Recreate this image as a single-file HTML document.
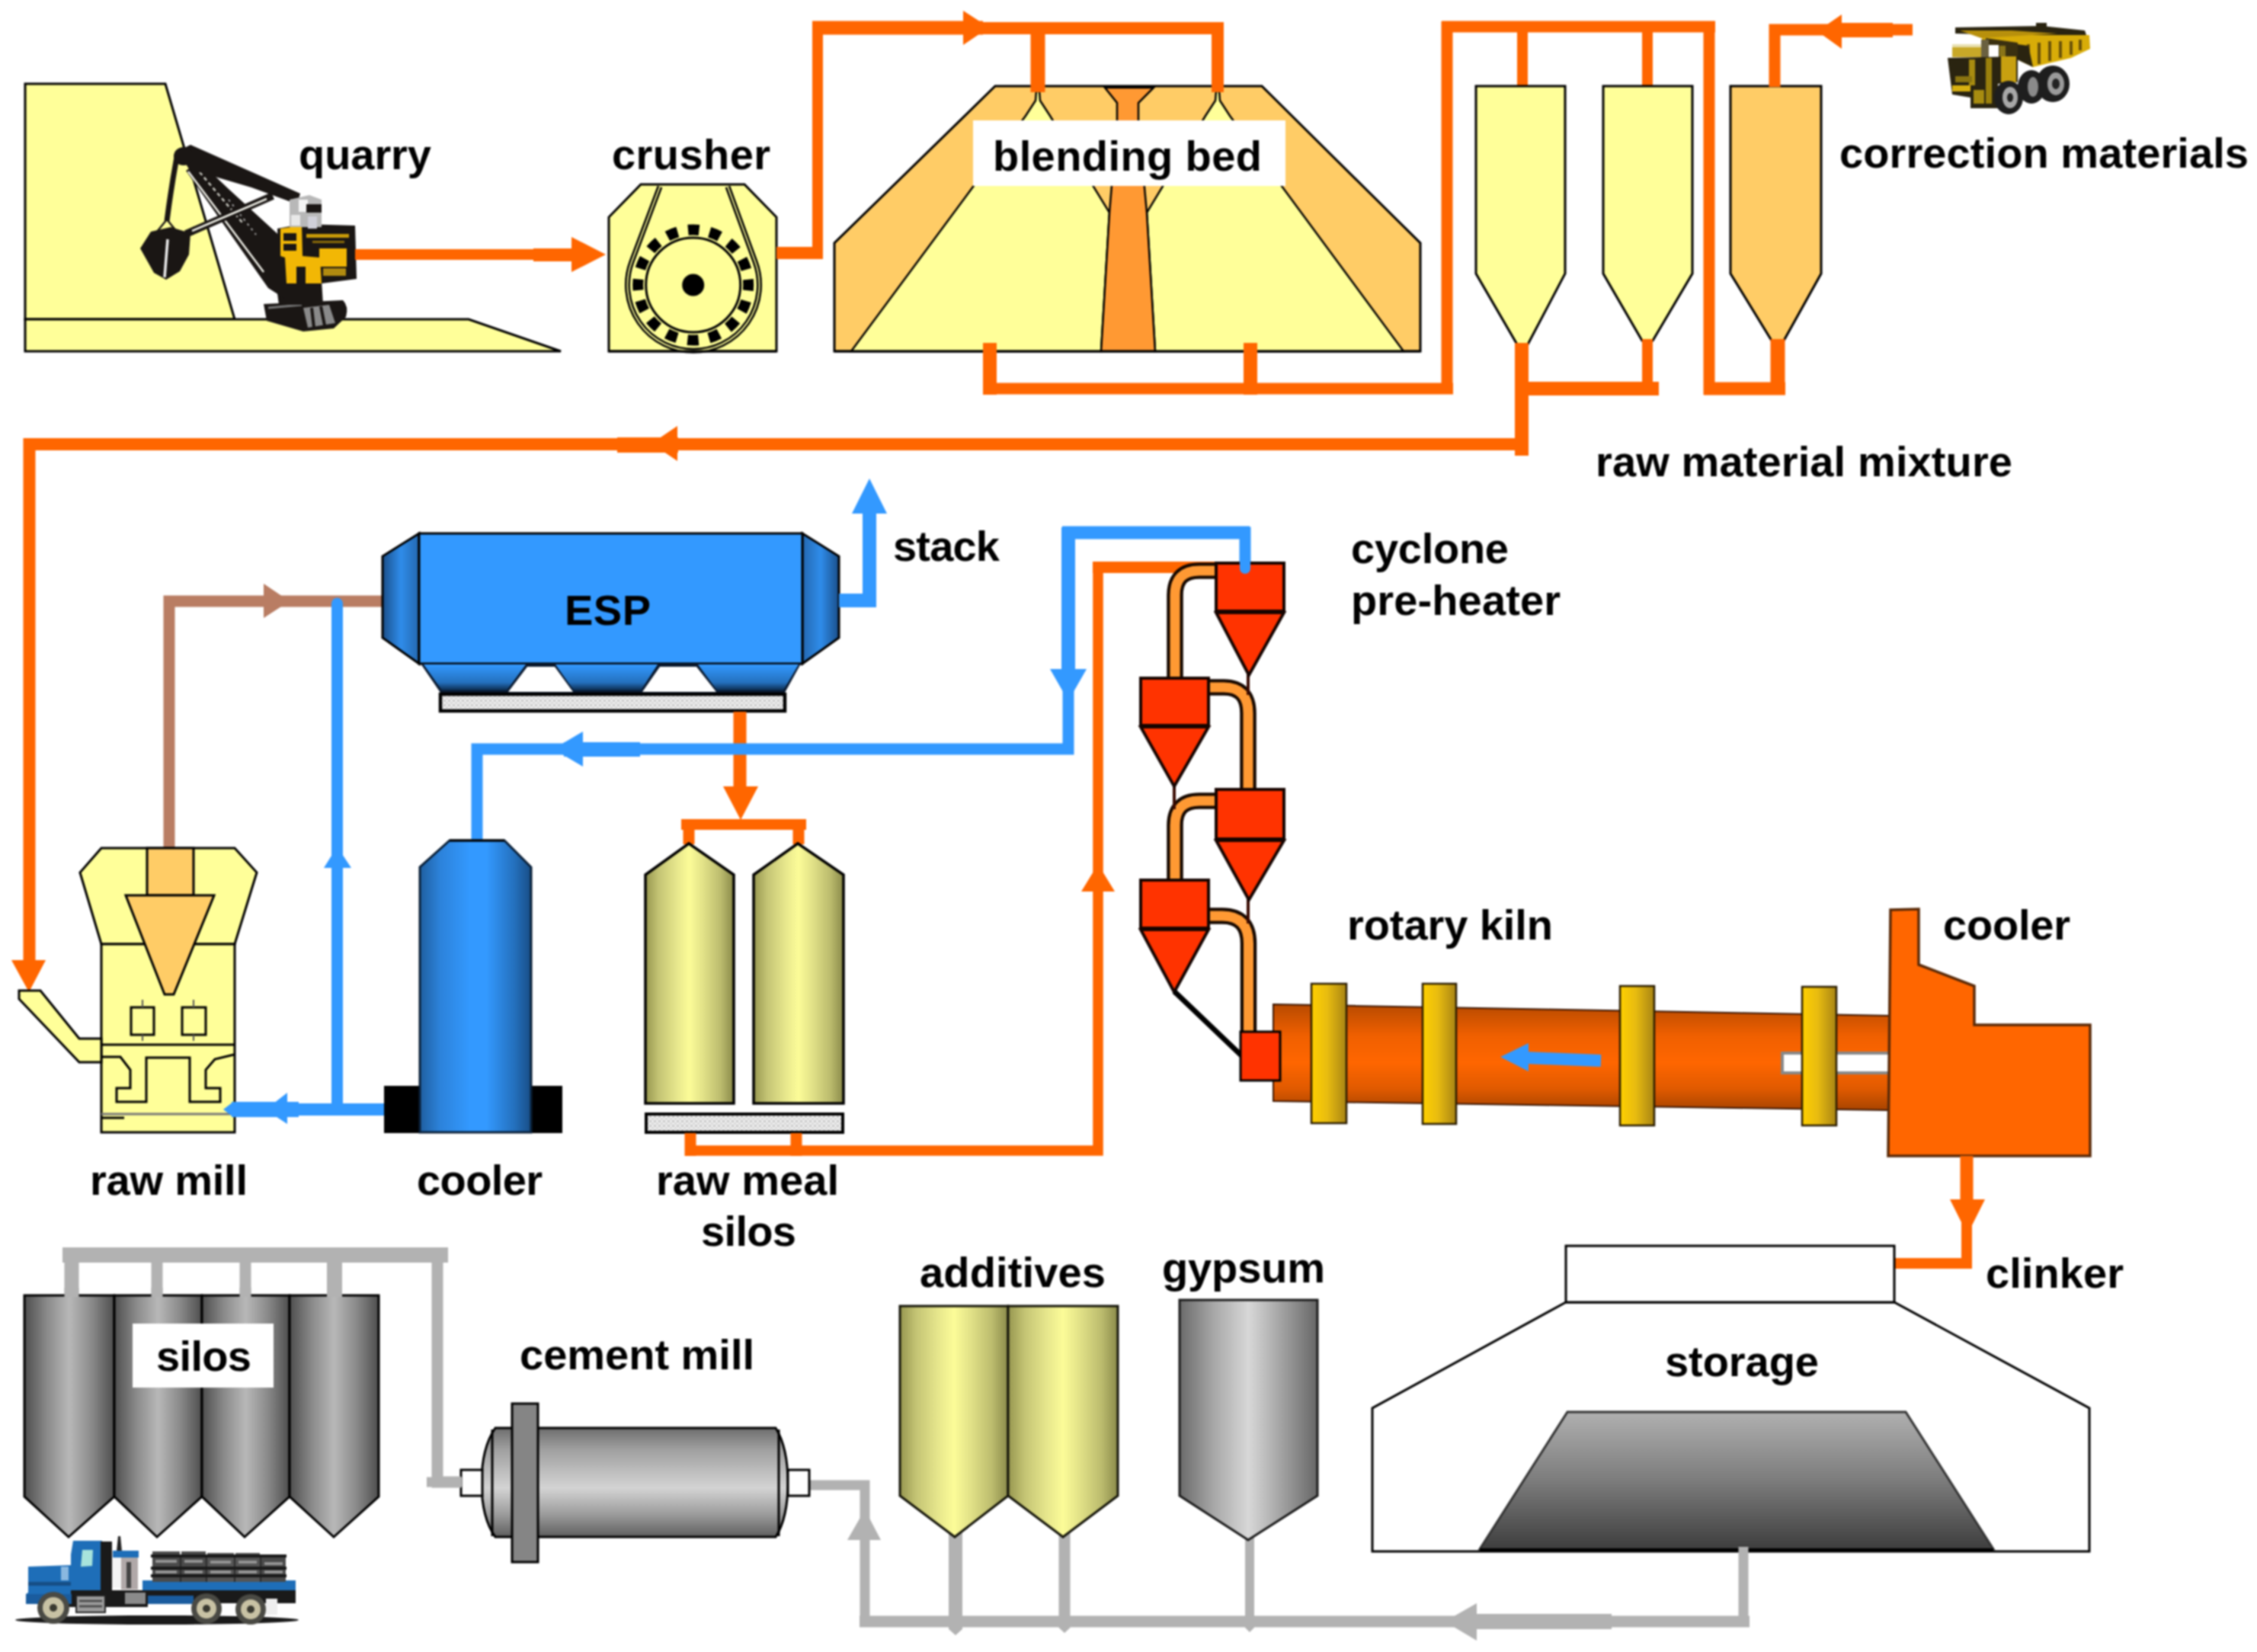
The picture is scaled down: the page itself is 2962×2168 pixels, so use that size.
<!DOCTYPE html>
<html>
<head>
<meta charset="utf-8">
<title>Cement manufacturing process</title>
<style>
html,body{margin:0;padding:0;background:#fff;}
body{width:2962px;height:2168px;overflow:hidden;font-family:"Liberation Sans",sans-serif;}
svg{display:block;}
text{font-family:"Liberation Sans",sans-serif;font-weight:bold;fill:#000;}
.o{stroke:#FF6600;fill:none;stroke-linecap:butt;stroke-linejoin:miter;}
.of{fill:#FF6600;stroke:none;}
.b{stroke:#3399FF;fill:none;}
.bf{fill:#3399FF;stroke:none;}
.g{stroke:#B2B2B2;fill:none;}
.gf{fill:#B2B2B2;stroke:none;}
.k{stroke:#000;stroke-width:3;}
</style>
</head>
<body>
<svg width="2962" height="2168" viewBox="0 0 2962 2168">
<defs>
  <linearGradient id="gBlueV" x1="0" y1="0" x2="1" y2="0">
    <stop offset="0" stop-color="#1F5FA0"/><stop offset="0.18" stop-color="#2C82DA"/><stop offset="0.45" stop-color="#3399FF"/><stop offset="0.6" stop-color="#3399FF"/><stop offset="0.85" stop-color="#2470BD"/><stop offset="1" stop-color="#184E86"/>
  </linearGradient>
  <linearGradient id="gCapL" x1="0" y1="0" x2="1" y2="0">
    <stop offset="0" stop-color="#1A4F8A"/><stop offset="0.5" stop-color="#2F8CEA"/><stop offset="1" stop-color="#2468B0"/>
  </linearGradient>
  <linearGradient id="gCapR" x1="0" y1="0" x2="1" y2="0">
    <stop offset="0" stop-color="#2468B0"/><stop offset="0.5" stop-color="#2F8CEA"/><stop offset="1" stop-color="#1A4F8A"/>
  </linearGradient>
  <linearGradient id="gHop" x1="0" y1="0" x2="0" y2="1">
    <stop offset="0" stop-color="#3399FF"/><stop offset="0.7" stop-color="#2470BD"/><stop offset="1" stop-color="#0B2A4C"/>
  </linearGradient>
  <linearGradient id="gOlive" x1="0" y1="0" x2="1" y2="0">
    <stop offset="0" stop-color="#96964F"/><stop offset="0.15" stop-color="#C4C474"/><stop offset="0.35" stop-color="#E6E68C"/><stop offset="0.5" stop-color="#FCFC98"/><stop offset="0.65" stop-color="#E2E288"/><stop offset="0.85" stop-color="#BCBC6E"/><stop offset="1" stop-color="#8A8A4A"/>
  </linearGradient>
  <linearGradient id="gSilo" x1="0" y1="0" x2="1" y2="0">
    <stop offset="0" stop-color="#4E4E4E"/><stop offset="0.25" stop-color="#8A8A8A"/><stop offset="0.5" stop-color="#B8B8B8"/><stop offset="0.75" stop-color="#8A8A8A"/><stop offset="1" stop-color="#4E4E4E"/>
  </linearGradient>
  <linearGradient id="gGyp" x1="0" y1="0" x2="1" y2="0">
    <stop offset="0" stop-color="#6A6A6A"/><stop offset="0.25" stop-color="#A8A8A8"/><stop offset="0.5" stop-color="#D8D8D8"/><stop offset="0.75" stop-color="#A0A0A0"/><stop offset="1" stop-color="#666666"/>
  </linearGradient>
  <linearGradient id="gMill" x1="0" y1="0" x2="0" y2="1">
    <stop offset="0" stop-color="#6E6E6E"/><stop offset="0.2" stop-color="#A0A0A0"/><stop offset="0.55" stop-color="#D4D4D4"/><stop offset="0.8" stop-color="#9A9A9A"/><stop offset="1" stop-color="#5E5E5E"/>
  </linearGradient>
  <linearGradient id="gPile" x1="0" y1="0" x2="0" y2="1">
    <stop offset="0" stop-color="#B0B0B0"/><stop offset="0.5" stop-color="#7C7C7C"/><stop offset="1" stop-color="#3E3E3E"/>
  </linearGradient>
  <linearGradient id="gKiln" x1="0" y1="0" x2="0" y2="1">
    <stop offset="0" stop-color="#B84A00"/><stop offset="0.3" stop-color="#F06000"/><stop offset="0.55" stop-color="#FF6600"/><stop offset="0.8" stop-color="#E05A00"/><stop offset="1" stop-color="#A84400"/>
  </linearGradient>
  <linearGradient id="gRing" x1="0" y1="0" x2="1" y2="0">
    <stop offset="0" stop-color="#FFD000"/><stop offset="0.45" stop-color="#E8BC10"/><stop offset="1" stop-color="#A88414"/>
  </linearGradient>
  <pattern id="dots" width="6" height="6" patternUnits="userSpaceOnUse">
    <rect width="6" height="6" fill="#F0F0F0"/><rect x="0" y="0" width="3" height="3" fill="#C8C8C8"/><rect x="3" y="3" width="3" height="3" fill="#D8D8D8"/>
  </pattern>
  <filter id="soft" x="0" y="0" width="2962" height="2168" filterUnits="userSpaceOnUse" color-interpolation-filters="sRGB"><feGaussianBlur stdDeviation="1.2"/></filter>
</defs>
<rect width="2962" height="2168" fill="#FFFFFF"/>
<g id="all" filter="url(#soft)">
<rect x="-20" y="-20" width="3002" height="2208" fill="#FFFFFF"/>

<!-- SECTION:TOPROW -->
<!-- ===== QUARRY ===== -->
<polygon points="33,110 217,110 308,419 33,419" fill="#FFFF99" class="k"/>
<polygon points="33,419 615,419 736,461 33,461" fill="#FFFF99" class="k"/>
<!-- excavator (simplified clip art) -->
<g id="excavator">
  <!-- tracks -->
  <path d="M346,399 L450,394 Q458,402 454,416 L438,431 L398,435 L350,421 Z" fill="#1A1614"/>
  <path d="M398,404 L432,400 L440,424 L404,430 Z" fill="#8A8A8A"/>
  <path d="M409,404 L412,430 M421,402 L426,427" stroke="#1A1614" stroke-width="4" fill="none"/>
  <path d="M352,404 L396,400" stroke="#777" stroke-width="3"/>
  <!-- base / turret -->
  <polygon points="362,370 422,368 424,400 366,400" fill="#1A1614"/>
  <!-- lower lattice boom -->
  <polygon points="244,224 262,212 300,248 372,314 374,392 352,378" fill="#1A1614"/>
  <line x1="247" y1="225" x2="346" y2="357" stroke="#F0F0E8" stroke-width="2.5"/>
  <line x1="262" y1="226" x2="318" y2="292" stroke="#C8C8C0" stroke-width="2.5" stroke-dasharray="5 4"/>
  <line x1="300" y1="262" x2="336" y2="308" stroke="#AAA" stroke-width="2" stroke-dasharray="3 5"/>
  <!-- upper boom -->
  <polygon points="234,198 250,190 394,254 390,268 330,246 248,222" fill="#1A1614"/>
  <!-- dipper stick -->
  <line x1="244" y1="307" x2="358" y2="257" stroke="#1A1614" stroke-width="10"/>
  <line x1="252" y1="303" x2="350" y2="261" stroke="#F0F0E8" stroke-width="2.5"/>
  <!-- hoist rope -->
  <path d="M232,206 Q224,250 219,290" stroke="#1A1614" stroke-width="7" fill="none"/>
  <path d="M219,288 L206,304 M219,288 L232,304" stroke="#1A1614" stroke-width="2.5" fill="none"/>
  <ellipse cx="241" cy="205" rx="13" ry="12" fill="#1A1614"/>
  <!-- bucket -->
  <path d="M184,326 L198,304 L224,298 L250,306 L248,334 L236,356 L218,367 L202,358 Z" fill="#1A1614"/>
  <path d="M220,314 L216,364" stroke="#EEE" stroke-width="3.5"/>
  <!-- machinery house -->
  <polygon points="364,300 396,294 466,296 468,366 422,372 366,372" fill="#1A1614"/>
  <polygon points="368,300 396,296 397,336 420,338 422,372 376,372 374,338 368,336" fill="#F2B705"/>
  <rect x="372" y="306" width="17" height="10" fill="#1A1614"/><rect x="372" y="320" width="17" height="9" fill="#1A1614"/>
  <rect x="389" y="350" width="12" height="22" fill="#1A1614"/>
  <rect x="419" y="326" width="36" height="24" fill="#F2B705"/>
  <rect x="424" y="352" width="30" height="10" fill="#B08A10"/>
  <rect x="402" y="307" width="56" height="5" fill="#C89A08"/><rect x="410" y="316" width="42" height="3" fill="#8A6A08"/>
  <!-- operator cab -->
  <polygon points="380,262 406,256 422,262 422,298 380,298" fill="#B8B8B8"/>
  <rect x="392" y="262" width="12" height="16" fill="#F4F4F4"/>
  <rect x="402" y="268" width="20" height="11" fill="#1A1614"/>
  <rect x="382" y="282" width="12" height="14" fill="#E8E8E8"/>
  <rect x="404" y="284" width="12" height="16" fill="#CFCFD8"/>
</g>
<!-- quarry -> crusher arrow -->
<line x1="466" y1="334" x2="760" y2="334" class="o" stroke-width="14"/>
<rect x="700" y="326" width="60" height="17" class="of"/>
<polygon points="750,311 795,334 750,357" class="of"/>

<!-- ===== CRUSHER ===== -->
<polygon points="799,461 799,285 841,242 977,242 1019,285 1019,461" fill="#FFFF99" class="k"/>
<path d="M866,245 L829,343.5 A86.5,86.5 0 1 0 991,343.5 L955,245" fill="none" stroke="#000" stroke-width="7" stroke-linejoin="round"/>
<path d="M866,245 L829,343.5 A86.5,86.5 0 1 0 991,343.5 L955,245" fill="none" stroke="#FFFF99" stroke-width="1.8" stroke-linejoin="round"/>
<line x1="799" y1="461" x2="1019" y2="461" class="k"/>
<circle cx="909.7" cy="374" r="62" fill="none" stroke="#000" stroke-width="3"/>
<circle cx="909.7" cy="374" r="72.5" fill="none" stroke="#000" stroke-width="14" stroke-dasharray="14.5 13.97" transform="rotate(-5.7 909.7 374)"/>
<circle cx="909.7" cy="374" r="14.5" fill="#000"/>
<!-- crusher -> blending bed line -->
<polyline points="1019,331 1073,331 1073,36" class="o" stroke-width="14"/>
<line x1="1066" y1="36.5" x2="1290" y2="36.5" class="o" stroke-width="18"/>
<line x1="1019" y1="332" x2="1080" y2="332" class="o" stroke-width="16"/>
<line x1="1280" y1="37" x2="1606" y2="37" class="o" stroke-width="16"/>
<polygon points="1264,14 1298,36 1264,59" class="of"/>

<!-- ===== BLENDING BED ===== -->
<polygon points="1095,461 1095,319 1306,113 1656,113 1864,319 1864,461" fill="#FFCC66" class="k"/>
<!-- left yellow pile -->
<polygon points="1117,461 1346,152 1359,132 1360,120 1364,120 1365,132 1378,152 1456,279 1445,461" fill="#FFFF99" stroke="#000" stroke-width="2.5"/>
<!-- right yellow pile -->
<polygon points="1516,461 1505,279 1582,152 1595,132 1596,120 1600,120 1601,132 1614,152 1842,461" fill="#FFFF99" stroke="#000" stroke-width="2.5"/>
<!-- centre column -->
<polygon points="1450,115 1514,115 1494,135 1494,160 1505,279 1516,461 1445,461 1456,279 1466,160 1466,135" fill="#FF9933" stroke="#000" stroke-width="2.5"/>
<line x1="1095" y1="461" x2="1864" y2="461" stroke="#000" stroke-width="3"/>
<rect x="1277" y="158" width="410" height="86" fill="#FFFFFF"/>
<line x1="1362" y1="30" x2="1362" y2="121" class="o" stroke-width="19"/>
<line x1="1598" y1="30" x2="1598" y2="121" class="o" stroke-width="16"/>

<!-- bottom pipes of blending bed -->
<line x1="1299" y1="450" x2="1299" y2="518" class="o" stroke-width="18"/>
<line x1="1641" y1="450" x2="1641" y2="518" class="o" stroke-width="18"/>
<line x1="1290" y1="510" x2="1907" y2="510" class="o" stroke-width="15"/>
<line x1="1899" y1="28" x2="1899" y2="517" class="o" stroke-width="15"/>
<line x1="1892" y1="35" x2="2251" y2="35" class="o" stroke-width="15"/>
<line x1="1998" y1="35" x2="1998" y2="114" class="o" stroke-width="14"/>
<line x1="2162" y1="35" x2="2162" y2="114" class="o" stroke-width="14"/>
<line x1="2243" y1="28" x2="2243" y2="518" class="o" stroke-width="15"/>
<line x1="2236" y1="510" x2="2343" y2="510" class="o" stroke-width="17"/>

<!-- ===== FEED SILOS ===== -->
<polygon points="1937,113 2054,113 2054,359 2005,452 1991,452 1937,359" fill="#FFFF99" class="k"/>
<polygon points="2104,113 2221,113 2221,359 2169,447 2155,447 2104,359" fill="#FFFF99" class="k"/>
<polygon points="2271,113 2390,113 2390,359 2341,447 2325,447 2271,359" fill="#FFCC66" class="k"/>
<line x1="1997" y1="450" x2="1997" y2="598" class="o" stroke-width="18"/>
<line x1="2162" y1="445" x2="2162" y2="518" class="o" stroke-width="14"/>
<line x1="2333" y1="445" x2="2333" y2="518" class="o" stroke-width="19"/>
<line x1="1988" y1="510" x2="2177" y2="510" class="o" stroke-width="18"/>
<!-- correction materials arrow -->
<polyline points="2329,114 2329,39 2510,39" class="o" stroke-width="15"/>
<rect x="2410" y="30" width="74" height="19" class="of"/>
<polygon points="2417,19 2385,41 2417,64" class="of"/>
<!-- dump truck (simplified) -->
<g id="dumptruck">
  <!-- bed -->
  <polygon points="2601,46 2742,46 2743,64 2718,76 2668,88 2647,78 2647,58 2601,54" fill="#D8AC08"/>
  <polygon points="2566,36 2680,34 2736,40 2738,46 2640,46 2566,44" fill="#2A2410"/>
  <polygon points="2572,40 2640,40 2700,44 2600,50" fill="#B8900C"/>
  <rect x="2672" y="30" width="14" height="6" fill="#2A2410"/>
  <path d="M2662,58 V84 M2676,56 V84 M2690,54 V80 M2704,54 V76 M2718,54 V72 M2730,52 V66" stroke="#6A5208" stroke-width="4" fill="none"/>
  <polygon points="2647,58 2662,60 2668,88 2647,78" fill="#2A2410"/>
  <!-- cab top -->
  <rect x="2562" y="60" width="46" height="15" fill="#C8A828"/>
  <rect x="2562" y="58" width="46" height="4" fill="#E8E0B0"/>
  <polygon points="2606,50 2648,56 2648,76 2606,76" fill="#3A3010"/>
  <rect x="2624" y="60" width="8" height="14" fill="#8A7418"/>
  <rect x="2610" y="59" width="13" height="16" fill="#FFFFFF"/>
  <rect x="2600" y="52" width="10" height="24" fill="#6A6040"/>
  <!-- body -->
  <polygon points="2556,76 2648,74 2648,108 2622,110 2622,142 2586,142 2586,128 2562,124" fill="#2A2410"/>
  <rect x="2584" y="78" width="8" height="34" fill="#A88C10"/>
  <rect x="2606" y="76" width="8" height="60" fill="#9A800C"/>
  <rect x="2626" y="74" width="20" height="34" fill="#C8A010"/>
  <rect x="2566" y="100" width="22" height="8" fill="#8A7410"/>
  <rect x="2562" y="112" width="24" height="8" fill="#D8B010"/>
  <rect x="2590" y="118" width="14" height="18" fill="#A88C10"/>
  <!-- wheels -->
  <ellipse cx="2694" cy="110" rx="22" ry="24" fill="#1E1E1E"/>
  <ellipse cx="2666" cy="114" rx="18" ry="22" fill="#1E1E1E"/>
  <ellipse cx="2636" cy="128" rx="19" ry="22" fill="#1E1E1E"/>
  <ellipse cx="2698" cy="110" rx="11" ry="15" fill="#9A9A9A"/><ellipse cx="2698" cy="110" rx="5" ry="7" fill="#222"/>
  <ellipse cx="2668" cy="114" rx="7" ry="13" fill="#8A8A8A"/>
  <ellipse cx="2638" cy="128" rx="10" ry="14" fill="#A8A8A8"/><ellipse cx="2638" cy="128" rx="4" ry="6" fill="#222"/>
</g>

<!-- ===== RAW MATERIAL MIXTURE LINE ===== -->
<polyline points="2004,583 38.5,583 38.5,1266" class="o" stroke-width="16"/>
<rect x="810" y="574" width="80" height="20" class="of"/>
<polygon points="889,559 855,582 889,605" class="of"/>
<polygon points="15,1260 60,1260 38,1302" class="of"/>
<!-- END:TOPROW -->

<!-- SECTION:MIDROW -->
<!-- ===== BROWN LINE raw mill -> ESP ===== -->
<polyline points="222,1112 222,789 504,789" fill="none" stroke="#B97D63" stroke-width="15"/>
<polygon points="346,766 380,789 346,811" fill="#B97D63"/>
<!-- ===== BLUE vertical (cooler/raw mill to ESP) ===== -->
<line x1="442.5" y1="792" x2="442.5" y2="1456" class="b" stroke-width="15"/><circle cx="442.5" cy="792" r="7.5" class="bf"/>
<polygon points="425,1139 442.5,1111 461,1139" class="bf"/>
<!-- blue horizontal to raw mill -->

<!-- ===== ESP ===== -->
<polygon points="550,700 502,730 502,837 550,871" fill="url(#gCapL)" class="k"/>
<polygon points="1053,700 1101,730 1101,837 1053,871" fill="url(#gCapR)" class="k"/>
<rect x="550" y="700" width="503" height="171" fill="#3399FF" class="k"/>
<polygon points="552,871 1051,871 1030,909 578,909" fill="#0A1A30"/>
<polygon points="556,872 690,872 665,906 580,906" fill="url(#gHop)"/>
<polygon points="729,872 863,872 841,906 753,906" fill="url(#gHop)"/>
<polygon points="916,872 1048,872 1028,906 941,906" fill="url(#gHop)"/>
<polygon points="692,875 728,875 752,908 667,908" fill="#FFFFFF"/>
<polygon points="866,875 914,875 940,908 843,908" fill="#FFFFFF"/>
<rect x="578" y="911" width="452" height="22" fill="url(#dots)" stroke="#000" stroke-width="4.5"/>
<!-- ESP -> stack -->
<polyline points="1101,788 1141,788 1141,660" class="b" stroke-width="18"/>
<polygon points="1118,674 1141,628 1164,674" class="bf"/>
<!-- ESP -> raw meal silos -->
<line x1="971" y1="934" x2="971" y2="1040" class="o" stroke-width="17"/>
<polygon points="949,1032 995,1032 972,1076" class="of"/>
<line x1="894" y1="1082" x2="1058" y2="1082" class="o" stroke-width="14"/>
<line x1="904" y1="1076" x2="904" y2="1108" class="o" stroke-width="15"/>
<line x1="1048" y1="1076" x2="1048" y2="1108" class="o" stroke-width="15"/>

<!-- ===== BLUE line from preheater to cooler ===== -->
<polyline points="1634,748 1634,699 1402,699 1402,983 626,983 626,1106" class="b" stroke-width="15"/>
<line x1="1394" y1="699" x2="1640" y2="699" class="b" stroke-width="17"/>
<line x1="1402" y1="692" x2="1402" y2="900" class="b" stroke-width="18"/>
<polygon points="1378,878 1426,878 1402,920" class="bf"/>
<rect x="740" y="974" width="100" height="19" class="bf"/>
<polygon points="765,960 726,983 765,1006" class="bf"/>

<!-- ===== RAW MILL ===== -->
<polygon points="133,1113 308,1113 337,1145 308,1239 133,1239 105,1145" fill="#FFFF99" class="k"/>
<rect x="133" y="1239" width="175" height="247" fill="#FFFF99" class="k"/>
<polygon points="25,1300 53,1300 104,1363 133,1363 133,1394 104,1394 25,1311" fill="#FFFF99" class="k"/>
<rect x="193" y="1113" width="61" height="62" fill="#FFCC66" class="k"/>
<polygon points="165,1175 281,1175 228,1305 216,1305" fill="#FFCC66" class="k"/>
<rect x="172" y="1322" width="30" height="36" fill="#FFFF99" class="k"/>
<rect x="239" y="1322" width="31" height="36" fill="#FFFF99" class="k"/>
<path d="M187,1312 V1322 M187,1358 V1366 M254,1312 V1322 M254,1358 V1366" stroke="#555" stroke-width="2" fill="none"/>
<line x1="133" y1="1371" x2="308" y2="1371" class="k"/>
<path d="M134,1387 L158,1387 L171,1404 L171,1428 L153,1428 L153,1446 L192,1446 L192,1388 L249,1388 L249,1446 L289,1446 L289,1428 L270,1428 L270,1404 L282,1390 L307,1384" fill="none" class="k"/>
<line x1="133" y1="1462" x2="308" y2="1462" stroke="#777" stroke-width="3"/>
<line x1="133" y1="1467" x2="163" y2="1467" class="k"/>

<line x1="370" y1="1456" x2="512" y2="1456" class="b" stroke-width="16"/>
<line x1="304" y1="1456" x2="392" y2="1456" class="b" stroke-width="20"/>
<polygon points="377,1434 354,1452 354,1460 377,1475" class="bf"/>
<polygon points="306,1446 293,1456 306,1466" class="bf"/>
<!-- ===== COOLER (conditioning tower) ===== -->
<rect x="504" y="1425" width="234" height="62" fill="#000"/>
<polygon points="551,1486 551,1138 590,1103 662,1103 697,1138 697,1486" fill="url(#gBlueV)" stroke="#0A2038" stroke-width="3"/>
<line x1="590" y1="1103" x2="662" y2="1103" class="k"/>

<!-- ===== RAW MEAL SILOS ===== -->
<polygon points="847,1448 847,1148 904,1107 963,1148 963,1448" fill="url(#gOlive)" stroke="#000" stroke-width="3.5"/>
<polygon points="989,1448 989,1148 1047,1107 1107,1148 1107,1448" fill="url(#gOlive)" stroke="#000" stroke-width="3.5"/>
<rect x="848" y="1462" width="258" height="24" fill="url(#dots)" stroke="#000" stroke-width="4"/>
<line x1="906" y1="1487" x2="906" y2="1517" class="o" stroke-width="15"/>
<line x1="1045" y1="1487" x2="1045" y2="1517" class="o" stroke-width="15"/>
<polyline points="899,1510 1441,1510 1441,744" class="o" stroke-width="13.5"/>
<line x1="1434" y1="744.5" x2="1596" y2="744.5" class="o" stroke-width="15"/>
<polygon points="1419,1170 1441,1134 1463,1170" class="of"/>

<!-- ===== CYCLONE PRE-HEATER ===== -->
<g fill="none" stroke-linecap="butt">
  <!-- pipes: black outline then coloured core -->
  <path id="pA" d="M1598,749 H1574 Q1542,749 1542,781 V892"/>
  <path id="pB" d="M1584,902 H1606 Q1638,902 1638,936 V1038"/>
  <path id="pC" d="M1598,1051 H1574 Q1542,1051 1542,1083 V1156"/>
  <path id="pD" d="M1584,1202 H1604 Q1638.5,1202 1638.5,1238 V1356"/>
</g>
<g fill="none" stroke="#160800" stroke-width="21.5">
  <use href="#pA"/><use href="#pB"/><use href="#pC"/><use href="#pD"/>
</g>
<g fill="none" stroke="#FF9933" stroke-width="13">
  <use href="#pA"/><use href="#pB"/><use href="#pC"/><use href="#pD"/>
</g>
<path d="M1638,885 V912 M1541,1031 V1062 M1638,1180 V1212" stroke="#3A0A00" stroke-width="4" fill="none"/>
<g fill="#FF3300" stroke="#160400" stroke-width="4">
  <rect x="1596" y="739" width="89" height="63"/><polygon points="1596,804 1685,804 1639,886"/>
  <rect x="1497" y="890" width="89" height="62"/><polygon points="1497,954 1586,954 1541,1032"/>
  <rect x="1596" y="1036" width="89" height="65"/><polygon points="1596,1103 1685,1103 1639,1181"/>
  <rect x="1497" y="1155" width="89" height="63"/><polygon points="1497,1220 1586,1220 1541,1302"/>
</g>
<line x1="1634" y1="736" x2="1634" y2="746" class="b" stroke-width="14" stroke-linecap="round"/>
<line x1="1541" y1="1301" x2="1630" y2="1386" stroke="#000" stroke-width="7"/>

<!-- ===== ROTARY KILN ===== -->
<polygon points="1671,1318 2480,1333 2480,1457 1671,1445" fill="url(#gKiln)" stroke="#3A1400" stroke-width="2"/>
<rect x="2339" y="1382" width="142" height="26" fill="#FFFFFF" stroke="#888" stroke-width="4"/>
<rect x="1721" y="1291" width="46" height="183" fill="url(#gRing)" stroke="#2A1C00" stroke-width="2.5"/>
<rect x="1867" y="1291" width="44" height="184" fill="url(#gRing)" stroke="#2A1C00" stroke-width="2.5"/>
<rect x="2126" y="1294" width="45" height="183" fill="url(#gRing)" stroke="#2A1C00" stroke-width="2.5"/>
<rect x="2365" y="1295" width="45" height="182" fill="url(#gRing)" stroke="#2A1C00" stroke-width="2.5"/>
<rect x="1628" y="1354" width="52" height="64" fill="#FF3300" class="k"/>
<line x1="2000" y1="1388" x2="2101" y2="1392" class="b" stroke-width="16"/>
<polygon points="1969,1387 2006,1369 2006,1406" class="bf"/>
<!-- clinker cooler -->
<polygon points="2481,1194 2518,1193 2518,1266 2591,1294 2591,1345 2743,1345 2743,1517 2478,1517" fill="#FF6600" stroke="#5A2A08" stroke-width="3.5"/>
<polyline points="2581,1517 2581,1658 2486,1658" class="o" stroke-width="14"/>
<line x1="2581" y1="1517" x2="2581" y2="1600" class="o" stroke-width="17"/>
<polygon points="2559,1574 2605,1574 2582,1620" class="of"/>
<!-- END:MIDROW -->

<!-- SECTION:BOTROW -->
<!-- ===== CLINKER STORAGE ===== -->
<polygon points="2055,1709 1801,1848 1801,2036 2742,2036 2742,1848 2486,1709" fill="#FFFFFF" stroke="#000" stroke-width="3"/>
<rect x="2055" y="1635" width="431" height="74" fill="#FFFFFF" class="k"/>
<polygon points="2057,1853 2501,1853 2616,2033 1942,2033" fill="url(#gPile)" stroke="#333" stroke-width="3"/>
<line x1="1942" y1="2034" x2="2616" y2="2034" stroke="#000" stroke-width="4"/>
<!-- grey lines: storage -> cement mill -->
<line x1="2288" y1="2030" x2="2288" y2="2135" class="g" stroke-width="13"/>
<line x1="1128" y1="2128" x2="2296" y2="2128" class="g" stroke-width="15"/>
<rect x="1930" y="2118" width="185" height="20" class="gf"/>
<polygon points="1938,2104 1896,2128 1938,2153" class="gf"/>
<path d="M1245,2012 V2138 L1254,2146 L1263,2138 V2012 Z" class="gf"/>
<path d="M1389.5,2012 V2136 L1397,2143 L1404.5,2136 V2012 Z" class="gf"/>
<path d="M1634,2016 V2136 L1640,2142 L1646,2136 V2016 Z" class="gf"/>
<polyline points="1062,1949 1135,1949 1135,2135" class="g" stroke-width="13"/>
<polygon points="1112,2021 1135,1981 1156,2021" class="gf"/>
<!-- ===== ADDITIVES + GYPSUM ===== -->
<polygon points="1181,1714 1323,1714 1323,1963 1253,2017 1181,1963" fill="url(#gOlive)" stroke="#15150A" stroke-width="3"/>
<polygon points="1323,1714 1467,1714 1467,1963 1395,2017 1323,1963" fill="url(#gOlive)" stroke="#15150A" stroke-width="3"/>
<polygon points="1548,1706 1729,1706 1729,1963 1638,2021 1548,1963" fill="url(#gGyp)" stroke="#1A1A1A" stroke-width="3"/>
<!-- ===== CEMENT MILL ===== -->
<path d="M650,1874 H1018 Q1034,1900 1034,1946 Q1034,1992 1018,2017 H650 Q632,1992 632,1946 Q632,1900 650,1874 Z" fill="url(#gMill)" class="k"/>
<line x1="646" y1="1876" x2="646" y2="2016" class="k"/>
<line x1="1022" y1="1876" x2="1022" y2="2016" class="k"/>
<rect x="672" y="1842" width="34" height="208" fill="#858585" class="k"/>
<rect x="605" y="1929" width="28" height="34" fill="#FFFFFF" class="k"/>
<rect x="1034" y="1929" width="28" height="34" fill="#FFFFFF" class="k"/>
<!-- grey: mill -> silos -->
<polyline points="605,1945 574,1945 574,1640" class="g" stroke-width="15"/>
<line x1="560" y1="1945" x2="606" y2="1945" class="g" stroke-width="13"/>
<line x1="82" y1="1647" x2="588" y2="1647" class="g" stroke-width="20"/>
<line x1="94" y1="1640" x2="94" y2="1702" class="g" stroke-width="19"/>
<line x1="206" y1="1640" x2="206" y2="1702" class="g" stroke-width="15"/>
<line x1="322" y1="1640" x2="322" y2="1702" class="g" stroke-width="15"/>
<line x1="439" y1="1640" x2="439" y2="1702" class="g" stroke-width="20"/>
<!-- ===== CEMENT SILOS ===== -->
<polygon points="32,1700 150,1700 150,1964 90,2017 32,1964" fill="url(#gSilo)" class="k"/>
<polygon points="150,1700 265,1700 265,1964 206,2017 150,1964" fill="url(#gSilo)" class="k"/>
<polygon points="265,1700 380,1700 380,1964 321,2017 265,1964" fill="url(#gSilo)" class="k"/>
<polygon points="380,1700 497,1700 497,1964 438,2017 380,1964" fill="url(#gSilo)" class="k"/>
<line x1="94" y1="1690" x2="94" y2="1702" class="g" stroke-width="19"/>
<line x1="206" y1="1690" x2="206" y2="1702" class="g" stroke-width="15"/>
<line x1="322" y1="1690" x2="322" y2="1702" class="g" stroke-width="15"/>
<line x1="439" y1="1690" x2="439" y2="1702" class="g" stroke-width="20"/>
<rect x="174" y="1737" width="185" height="84" fill="#FFFFFF"/>
<!-- ===== CEMENT TRUCK (simplified) ===== -->
<g id="bluetruck">
  <ellipse cx="206" cy="2126" rx="186" ry="6" fill="#1A1A1A"/>
  <!-- chassis -->
  <rect x="88" y="2087" width="106" height="22" fill="#1A1A1A"/>
  <rect x="187" y="2087" width="201" height="17" fill="#1A1A1A"/>
  <rect x="194" y="2094" width="60" height="11" fill="#1A5C9E"/>
  <rect x="100" y="2094" width="38" height="22" fill="#9A9A9A" stroke="#222" stroke-width="2"/>
  <path d="M104,2101 H134 M104,2108 H134" stroke="#444" stroke-width="2.5"/>
  <rect x="164" y="2090" width="27" height="15" fill="#8A8A8A"/>
  <rect x="349" y="2098" width="15" height="21" fill="#EEE"/>
  <!-- hood -->
  <polygon points="37,2056 93,2054 93,2105 34,2105 34,2092 37,2090" fill="#1E6EB8"/>
  <rect x="37" y="2076" width="56" height="5" fill="#164E86"/>
  <rect x="34" y="2092" width="60" height="13" fill="#1A5C9E"/>
  <rect x="80" y="2056" width="10" height="18" fill="#8AB8E0"/>
  <!-- cab -->
  <polygon points="96,2022 134,2022 134,2087 93,2087 93,2040" fill="#1E6EB8"/>
  <polygon points="108,2034 122,2034 121,2055 106,2056" fill="#A8E4DC"/>
  <rect x="132" y="2023" width="15" height="64" fill="#1A1A1A"/>
  <!-- stack + tank -->
  <polygon points="153,2036 155,2016 158,2016 160,2036" fill="#222"/>
  <rect x="148" y="2035" width="34" height="9" fill="#1E6EB8"/>
  <rect x="147" y="2044" width="12" height="40" fill="#F4F4F4"/>
  <rect x="159" y="2044" width="22" height="42" fill="#B0A8A8"/>
  <rect x="166" y="2050" width="6" height="34" fill="#444"/>
  <!-- flatbed -->
  <rect x="187" y="2074" width="201" height="13" fill="#1E6EB8"/>
  <!-- barrels -->
  <g>
    <rect x="200" y="2040" width="175" height="36" fill="#2A2A2A"/>
    <rect x="200" y="2036" width="36" height="40" fill="#4A4A4A"/><rect x="238" y="2036" width="32" height="40" fill="#4A4A4A"/>
    <rect x="272" y="2038" width="35" height="38" fill="#555"/><rect x="309" y="2038" width="32" height="38" fill="#555"/><rect x="343" y="2040" width="32" height="36" fill="#4A4A4A"/>
    <path d="M198,2042 H376 M198,2058 H376 M198,2068 H376" stroke="#1A1A1A" stroke-width="4"/>
    <path d="M204,2049 H232 M242,2049 H266 M276,2050 H303 M313,2050 H337 M347,2052 H371 M204,2063 H232 M242,2063 H266 M276,2063 H303 M313,2063 H337 M347,2063 H371" stroke="#9A9A9A" stroke-width="3.5"/>
  </g>
  <!-- wheels -->
  <g>
    <circle cx="70" cy="2110" r="21" fill="#4A4A44"/><circle cx="70" cy="2110" r="14" fill="#C8C2A4"/><circle cx="70" cy="2110" r="5" fill="#3A3A30"/>
    <circle cx="271" cy="2111" r="20" fill="#4A4A44"/><circle cx="271" cy="2111" r="13" fill="#C8C2A4"/><circle cx="271" cy="2111" r="5" fill="#3A3A30"/>
    <circle cx="329" cy="2112" r="20" fill="#4A4A44"/><circle cx="329" cy="2112" r="13" fill="#C8C2A4"/><circle cx="329" cy="2112" r="5" fill="#3A3A30"/>
  </g>
</g>
<!-- END:BOTROW -->

<!-- SECTION:TEXT -->
<g font-size="56" lengthAdjust="spacingAndGlyphs">
<text x="392" y="222" textLength="174">quarry</text>
<text x="803" y="222" textLength="208">crusher</text>
<text x="1303" y="224" textLength="353">blending bed</text>
<text x="2414" y="220" textLength="537">correction materials</text>
<text x="2094" y="625" textLength="547">raw material mixture</text>
<text x="1172" y="736" textLength="140">stack</text>
<text x="741" y="820" textLength="113">ESP</text>
<text x="1773" y="739" textLength="207">cyclone</text>
<text x="1773" y="807" textLength="275">pre-heater</text>
<text x="1768" y="1233" textLength="270">rotary kiln</text>
<text x="2550" y="1233" textLength="167">cooler</text>
<text x="118" y="1568" textLength="207">raw mill</text>
<text x="547" y="1568" textLength="165">cooler</text>
<text x="861" y="1568" textLength="240">raw meal</text>
<text x="920" y="1635" textLength="125">silos</text>
<text x="205" y="1799" textLength="125">silos</text>
<text x="682" y="1797" textLength="308">cement mill</text>
<text x="1207" y="1689" textLength="244">additives</text>
<text x="1525" y="1683" textLength="214">gypsum</text>
<text x="2606" y="1690" textLength="181">clinker</text>
<text x="2185" y="1806" textLength="202">storage</text>
</g>
<!-- END:TEXT -->

</g>
</svg>
</body>
</html>
